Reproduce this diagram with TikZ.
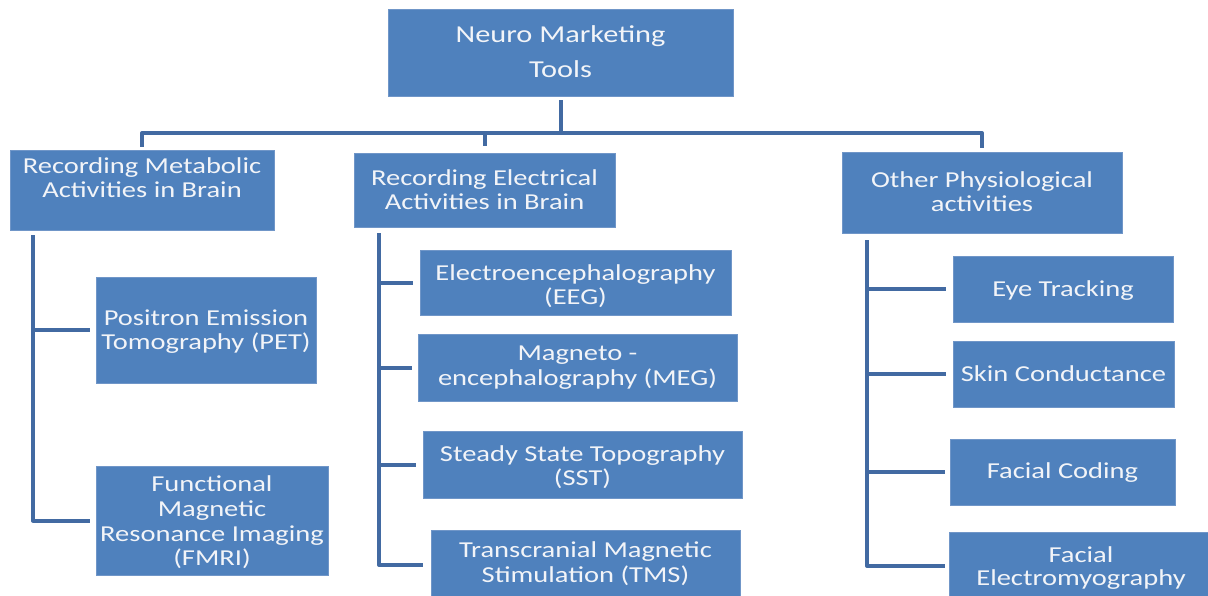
\documentclass[tikz,border=0pt]{standalone}
\usepackage{fontspec}
\setmainfont{Carlito}[FakeStretch=1.25]
\definecolor{boxfill}{RGB}{79,129,189}
\definecolor{boxedge}{RGB}{112,150,200}
\definecolor{linec}{RGB}{66,106,162}
\definecolor{txtc}{RGB}{242,244,248}
\tikzset{
  bx/.style={draw=boxedge, line width=0.8pt, fill=boxfill, rectangle, inner sep=0pt},
  txt/.style={text=txtc, inner sep=0pt, anchor=base, font=\fontsize{22.8}{24}\selectfont},
  toptxt/.style={txt, font=\fontsize{24.3}{26}\selectfont},
  conn/.style={draw=linec, line width=4pt, line join=round}
}
\newcommand{\mkbox}[5]{%
  \node[bx, minimum width={#4-#2}, minimum height={#5-#3}] (#1) at ({(#2+#4)/2},{(#3+#5)/2}) {};}
\begin{document}
\begin{tikzpicture}[x=1pt,y=-1pt]
\useasboundingbox (0,0) rectangle (1208,595);
\clip (0,0) rectangle (1208,595);
% boxes
\mkbox{top}{388}{9}{733}{96}
\mkbox{met}{10}{150}{274}{230}
\mkbox{ele}{354}{153}{615}{227}
\mkbox{oth}{842}{152}{1122}{233}
\mkbox{pet}{96}{277}{316}{383}
\mkbox{fmri}{96}{466}{328}{575}
\mkbox{eeg}{420}{250}{731}{315}
\mkbox{meg}{418}{334}{737}{401}
\mkbox{sst}{423}{431}{742}{498}
\mkbox{tms}{431}{530}{740}{600}
\mkbox{eye}{953}{256}{1173}{322}
\mkbox{skin}{953}{341}{1174}{407}
\mkbox{fc}{950}{439}{1175}{505}
\mkbox{femg}{949}{532}{1213}{600}
% texts
\node[toptxt] (t1) at (top.center |- 0,42) {Neuro Marketing};
\node[toptxt] (t2) at (top.center |- 0,77) {Tools};
\node[txt] (m1) at (met.center |- 0,173) {Recording Metabolic};
\node[txt] (m2) at (met.center |- 0,197) {Activities in Brain};
\node[txt] (e1) at (ele.center |- 0,185) {Recording Electrical};
\node[txt] (e2) at (ele.center |- 0,209) {Activities in Brain};
\node[txt] (o1) at (oth.center |- 0,187) {Other Physiological};
\node[txt] (o2) at (oth.center |- 0,211) {activities};
\node[txt] (p1) at (pet.center |- 0,325) {Positron Emission};
\node[txt] (p2) at (pet.center |- 0,349) {Tomography (PET)};
\node[txt] (f1) at (fmri.center |- 0,491) {Functional};
\node[txt] (f2) at (fmri.center |- 0,516) {Magnetic};
\node[txt] (f3) at (fmri.center |- 0,541) {Resonance Imaging};
\node[txt] (f4) at (fmri.center |- 0,565) {(FMRI)};
\node[txt] (g1) at (eeg.center |- 0,280) {Electroencephalography};
\node[txt] (g2) at (eeg.center |- 0,304) {(EEG)};
\node[txt] (h1) at (meg.center |- 0,360) {Magneto -};
\node[txt] (h2) at (meg.center |- 0,385) {encephalography (MEG)};
\node[txt] (s1) at (sst.center |- 0,461) {Steady State Topography};
\node[txt] (s2) at (sst.center |- 0,485) {(SST)};
\node[txt] (r1) at (tms.center |- 0,557) {Transcranial Magnetic};
\node[txt] (r2) at (tms.center |- 0,582) {Stimulation (TMS)};
\node[txt] (y1) at (eye.center |- 0,296) {Eye Tracking};
\node[txt] (k1) at (skin.center |- 0,381) {Skin Conductance};
\node[txt] (c1) at (fc.center |- 0,478) {Facial Coding};
\node[txt] (q1) at (femg.center |- 0,562) {Facial};
\node[txt] (q2) at (femg.center |- 0,585) {Electromyography};
% connectors
\coordinate (busy) at (0,133);
\coordinate (colL) at (33,0);
\coordinate (colM) at (379,0);
\coordinate (colR) at (867,0);
\draw[conn] ([yshift=-4pt]top.south) -- (top.south |- busy);
\draw[conn] ([yshift=3pt]met.north) -- (met.north |- busy) -- (oth.north |- busy) -- ([yshift=4pt]oth.north);
\draw[conn] (ele.north |- busy) -- ([yshift=7pt]ele.north);
% left column
\draw[conn] ([yshift=-5pt]colL |- met.south) -- (colL |- fmri.west) -- ([xshift=-6pt]fmri.west);
\draw[conn] (colL |- pet.west) -- ([xshift=-6pt]pet.west);
% middle column
\draw[conn] ([yshift=-6pt]colM |- ele.south) -- (colM |- tms.west) -- ([xshift=-8pt]tms.west);
\draw[conn] (colM |- eeg.west) -- ([xshift=-7pt]eeg.west);
\draw[conn] (colM |- meg.west) -- ([xshift=-6pt]meg.west);
\draw[conn] (colM |- sst.west) -- ([xshift=-7pt]sst.west);
% right column
\draw[conn] ([yshift=-7pt]colR |- oth.south) -- (colR |- femg.west) -- ([xshift=-4pt]femg.west);
\draw[conn] (colR |- eye.west) -- ([xshift=-7pt]eye.west);
\draw[conn] (colR |- skin.west) -- ([xshift=-7pt]skin.west);
\draw[conn] (colR |- fc.west) -- ([xshift=-5pt]fc.west);
\end{tikzpicture}
\end{document}
